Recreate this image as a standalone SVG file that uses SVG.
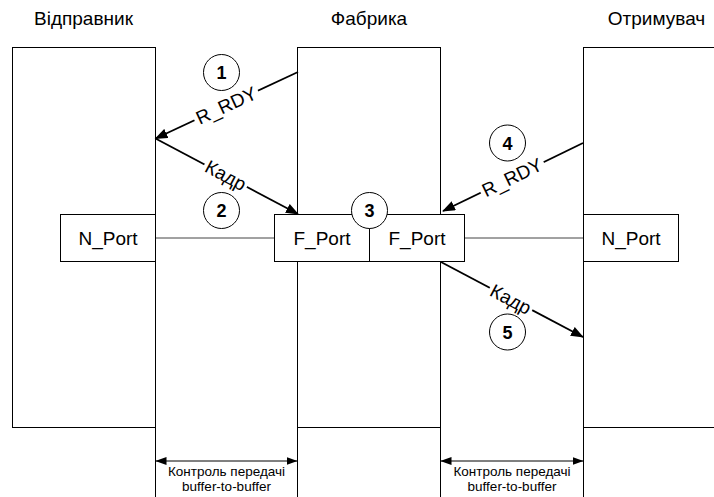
<svg xmlns="http://www.w3.org/2000/svg" width="714" height="497" viewBox="0 0 714 497">
<defs>
<style>
.box{fill:#fff;stroke:#000;stroke-width:1}
.ln{stroke:#000;stroke-width:1;fill:none}
.conn{stroke:#444;stroke-width:1;fill:none}
.arr{stroke:#000;stroke-width:1.8;fill:none;marker-end:url(#ah)}
.dbl{stroke:#000;stroke-width:1;fill:none;marker-start:url(#sh);marker-end:url(#sh)}
.t{font-family:"Liberation Sans",Arial,sans-serif;fill:#000;text-anchor:middle}
.big{font-size:19px}
.num{font-size:18px;font-weight:bold}
.small{font-size:13.5px}
.circ{fill:#fff;stroke:#000;stroke-width:1}
.lblbg{fill:#fff}
</style>
<marker id="ah" viewBox="0 0 13 10" refX="12" refY="5" markerWidth="13" markerHeight="10" markerUnits="userSpaceOnUse" orient="auto">
<path d="M0,0 L13,5 L0,10 Z" fill="#000"/>
</marker>
<marker id="sh" viewBox="0 0 11 8" refX="10.5" refY="4" markerWidth="11" markerHeight="8" markerUnits="userSpaceOnUse" orient="auto-start-reverse">
<path d="M0,0 L11,4 L0,8 Z" fill="#000"/>
</marker>
</defs>
<rect width="714" height="497" fill="#fff"/>

<g id="titles">
<text class="t big" x="83.5" y="25">Відправник</text>
<text class="t big" x="369" y="25">Фабрика</text>
<text class="t big" x="656.5" y="25">Отримувач</text>
</g>

<g id="sender">
<rect class="box" x="12.5" y="47.5" width="143" height="380"/>
</g>
<g id="fabric">
<rect class="box" x="297.5" y="47.5" width="143" height="380"/>
</g>
<g id="receiver">
<rect class="box" x="583.5" y="47.5" width="150" height="380"/>
</g>

<g id="guides">
<line class="ln" x1="155.5" y1="427.5" x2="155.5" y2="497"/>
<line class="ln" x1="297.5" y1="427.5" x2="297.5" y2="497"/>
<line class="ln" x1="440.5" y1="427.5" x2="440.5" y2="497"/>
<line class="ln" x1="583.5" y1="427.5" x2="583.5" y2="497"/>
</g>

<g id="connectors">
<line class="conn" x1="155.5" y1="238" x2="274.5" y2="238"/>
<line class="conn" x1="464.5" y1="238" x2="583.5" y2="238"/>
<line class="arr" x1="298" y1="72" x2="155.5" y2="138.5"/>
<line class="arr" x1="155.5" y1="138.5" x2="298" y2="214"/>
<line class="arr" x1="583" y1="143" x2="443" y2="211"/>
<line class="arr" x1="441" y1="262" x2="583" y2="337"/>
<line class="dbl" x1="156" y1="461" x2="297" y2="461"/>
<line class="dbl" x1="441" y1="461" x2="583" y2="461"/>
<g transform="translate(226,105) rotate(-24.9)">
<rect class="lblbg" x="-35" y="-8" width="70" height="16"/>
<text class="t big" x="0" y="7">R_RDY</text>
</g>
<g transform="translate(226,175) rotate(28)">
<rect class="lblbg" x="-24" y="-8" width="48" height="16"/>
<text class="t big" x="0" y="7">Кадр</text>
</g>
<g transform="translate(512,177) rotate(-26)">
<rect class="lblbg" x="-35" y="-8" width="70" height="16"/>
<text class="t big" x="0" y="7">R_RDY</text>
</g>
<g transform="translate(511,299) rotate(27.8)">
<rect class="lblbg" x="-24" y="-8" width="48" height="16"/>
<text class="t big" x="0" y="7">Кадр</text>
</g>
</g>

<g id="nport-left">
<rect class="box" x="60.5" y="214.5" width="95" height="47"/>
<text class="t big" x="108" y="245">N_Port</text>
</g>
<g id="fport-left">
<rect class="box" x="274.5" y="214.5" width="95" height="47"/>
<text class="t big" x="322" y="245">F_Port</text>
</g>
<g id="fport-right">
<rect class="box" x="369.5" y="214.5" width="95" height="47"/>
<text class="t big" x="417" y="245">F_Port</text>
</g>
<g id="nport-right">
<rect class="box" x="583.5" y="214.5" width="95" height="47"/>
<text class="t big" x="631" y="245">N_Port</text>
</g>

<g id="step1"><circle class="circ" cx="221.5" cy="72.5" r="18"/><text class="t num" x="221.5" y="79">1</text></g>
<g id="step2"><circle class="circ" cx="221.5" cy="210.5" r="18"/><text class="t num" x="221.5" y="217">2</text></g>
<g id="step3"><circle class="circ" cx="369.5" cy="210.5" r="18"/><text class="t num" x="369.5" y="217">3</text></g>
<g id="step4"><circle class="circ" cx="507.5" cy="143" r="18"/><text class="t num" x="507.5" y="149.5">4</text></g>
<g id="step5"><circle class="circ" cx="507.5" cy="332" r="18"/><text class="t num" x="507.5" y="338.5">5</text></g>

<g id="bb-left">
<text class="t small" x="226.5" y="476">Контроль передачі</text>
<text class="t small" x="226.5" y="491">buffer-to-buffer</text>
</g>
<g id="bb-right">
<text class="t small" x="512" y="476">Контроль передачі</text>
<text class="t small" x="512" y="491">buffer-to-buffer</text>
</g>
</svg>
